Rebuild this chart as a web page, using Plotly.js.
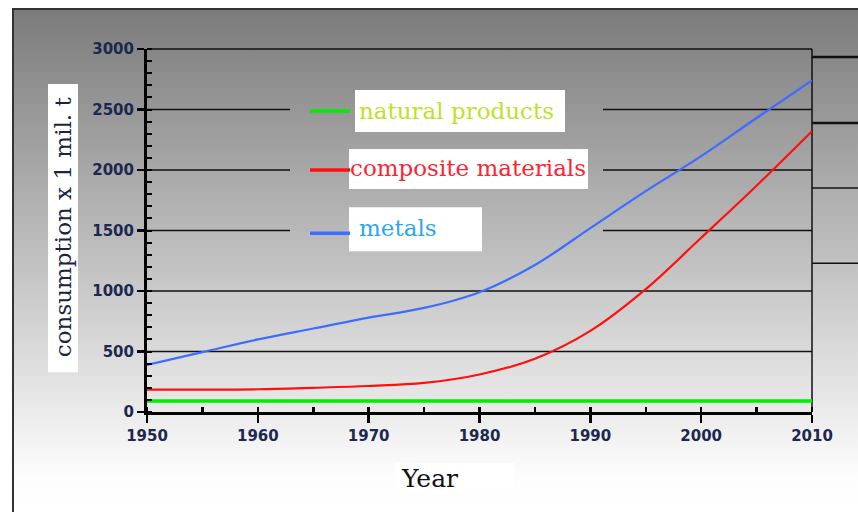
<!DOCTYPE html>
<html>
<head>
<meta charset="utf-8">
<script src="https://cdn.plot.ly/plotly-3.0.1.min.js"></script>
<style>html,body{margin:0;padding:0;background:#fff;}#chart{width:858px;height:512px;}</style>
</head>
<body>
<div id="chart"></div>
<script>
// ---- data ----
const years = [1950, 1955, 1960, 1965, 1970, 1975, 1980, 1985, 1990, 1995, 2000, 2005, 2010];
const naturalProducts = [90, 90, 90, 90, 90, 90, 90, 90, 90, 90, 90, 90, 90];
const compositeMaterials = [185, 185, 188, 200, 215, 240, 310, 440, 670, 1015, 1440, 1870, 2320];
const metals = [390, 495, 600, 690, 780, 860, 990, 1215, 1520, 1825, 2115, 2430, 2740];
const seriesNames = ["natural products", "composite materials", "metals"];
const xTicks = [1950, 1960, 1970, 1980, 1990, 2000, 2010];
const yTicks = [0, 500, 1000, 1500, 2000, 2500, 3000];
const xTitle = "Year";
const yTitle = "consumption x 1 mil. t";

// ---- layout helpers (pixel -> paper) ----
const L = 147, R = 812, T = 49, B = 411.7;
const X = px => (px - L) / (R - L);
const Y = py => (B - py) / (B - T);

const grad = "<svg xmlns='http://www.w3.org/2000/svg' width='100' height='100' viewBox='0 0 100 100' preserveAspectRatio='none'>" +
  "<defs><linearGradient id='g' x1='0' y1='0' x2='0' y2='1'>" +
  "<stop offset='0' stop-color='#7b7b7b'/><stop offset='0.93' stop-color='#fdfdfd'/><stop offset='1' stop-color='#ffffff'/>" +
  "</linearGradient></defs><rect width='100' height='100' fill='url(#g)'/></svg>";
const gradURI = "data:image/svg+xml;charset=utf-8," + encodeURIComponent(grad);

const traces = [
  {x: years, y: naturalProducts, name: seriesNames[0], mode: "lines", line: {color: "#00ee00", width: 3.5}},
  {x: years, y: compositeMaterials, name: seriesNames[1], mode: "lines", line: {color: "#ff1010", width: 2.2, shape: "spline", smoothing: 1}},
  {x: years, y: metals, name: seriesNames[2], mode: "lines", line: {color: "#3d6cff", width: 2.2, shape: "spline", smoothing: 1}}
];

const shapes = [];
// outer frame
shapes.push({type: "rect", xref: "paper", yref: "paper", x0: X(13), x1: X(900), y0: Y(9), y1: Y(560), line: {color: "#333", width: 2}, layer: "below"});
// gridlines
const gridFull = [500, 1000];
gridFull.forEach(v => shapes.push({type: "line", xref: "paper", yref: "y", x0: 0, x1: 1, y0: v, y1: v, line: {color: "#111", width: 1.5}, layer: "below"}));
[1500, 2000, 2500].forEach(v => {
  shapes.push({type: "line", xref: "paper", yref: "y", x0: 0, x1: X(290), y0: v, y1: v, line: {color: "#111", width: 1.5}, layer: "below"});
  shapes.push({type: "line", xref: "paper", yref: "y", x0: X(603), x1: 1, y0: v, y1: v, line: {color: "#111", width: 1.5}, layer: "below"});
});
// top & right border of plot
shapes.push({type: "line", xref: "paper", yref: "paper", x0: 0, x1: 1, y0: 1, y1: 1, line: {color: "#111", width: 1.5}, layer: "below"});
shapes.push({type: "line", xref: "paper", yref: "paper", x0: 1, x1: 1, y0: 0, y1: 1, line: {color: "#111", width: 1.5}, layer: "below"});
// partial box on the right
[[57, 2.5], [123, 2.5], [188, 1.5], [263, 1.5]].forEach(([py, w]) =>
  shapes.push({type: "line", xref: "paper", yref: "paper", x0: 1, x1: X(870), y0: Y(py), y1: Y(py), line: {color: "#111", width: w}, layer: "below"}));
// legend boxes and samples
const boxes = [[355, 565, 90, 132], [349, 588, 149, 189], [349, 482, 207, 251]];
boxes.forEach(b => shapes.push({type: "rect", xref: "paper", yref: "paper", x0: X(b[0]), x1: X(b[1]), y0: Y(b[3]), y1: Y(b[2]), fillcolor: "#fff", line: {width: 0}, layer: "below"}));
const samples = [[111, "#00ee00"], [170, "#ff1010"], [233, "#3d6cff"]];
samples.forEach(s => shapes.push({type: "line", xref: "paper", yref: "paper", x0: X(310), x1: X(350), y0: Y(s[0]), y1: Y(s[0]), line: {color: s[1], width: 3.5}}));
// axis title boxes
shapes.push({type: "rect", xref: "paper", yref: "paper", x0: X(48), x1: X(78), y0: Y(372), y1: Y(84), fillcolor: "#fff", line: {width: 0}, layer: "below"});
shapes.push({type: "rect", xref: "paper", yref: "paper", x0: X(395), x1: X(515), y0: Y(492), y1: Y(463), fillcolor: "#fff", line: {width: 0}, layer: "below"});

const legendFont = {family: "DejaVu Serif, serif", size: 23};
const annotations = [
  {xref: "paper", yref: "paper", x: X(357), y: Y(111), xanchor: "left", yanchor: "middle", showarrow: false, text: seriesNames[0], font: Object.assign({}, legendFont, {color: "#bde12c"})},
  {xref: "paper", yref: "paper", x: X(348), y: Y(168), xanchor: "left", yanchor: "middle", showarrow: false, text: seriesNames[1], font: Object.assign({}, legendFont, {color: "#ff2233"})},
  {xref: "paper", yref: "paper", x: X(357), y: Y(228), xanchor: "left", yanchor: "middle", showarrow: false, text: seriesNames[2], font: Object.assign({}, legendFont, {color: "#2aa6ee"})},
  {xref: "paper", yref: "paper", x: X(63), y: Y(227), xanchor: "center", yanchor: "middle", showarrow: false, textangle: -90, text: yTitle, font: {family: "DejaVu Serif, serif", size: 23, color: "#1a2340"}},
  {xref: "paper", yref: "paper", x: X(399), y: Y(478), xanchor: "left", yanchor: "middle", showarrow: false, text: xTitle, font: {family: "DejaVu Serif, serif", size: 25, color: "#111"}}
];

const tickFont = {family: "DejaVu Sans, sans-serif", size: 15, color: "#1c2850", weight: "bold"};

const layout = {
  width: 858, height: 512,
  margin: {l: L, r: 858 - R, t: T, b: 512 - B},
  paper_bgcolor: "#ffffff",
  plot_bgcolor: "rgba(0,0,0,0)",
  showlegend: false,
  images: [{source: gradURI, xref: "paper", yref: "paper", x: X(13), y: Y(9), sizex: (858 - 13) / (R - L), sizey: (512 - 9) / (B - T), xanchor: "left", yanchor: "top", sizing: "stretch", layer: "below"}],
  xaxis: {
    range: [1950, 2010], tickvals: xTicks, ticktext: xTicks.map(String),
    showgrid: false, zeroline: false, showline: true, linecolor: "#000", linewidth: 3,
    ticks: "outside", ticklen: 8, tickwidth: 2.5, tickcolor: "#000",
    minor: {ticks: "inside", ticklen: 5, tickwidth: 2.5, tickcolor: "#000", dtick: 5, showgrid: false},
    tickfont: tickFont
  },
  yaxis: {
    range: [0, 3000], tickvals: yTicks, ticktext: yTicks.map(String),
    showgrid: false, zeroline: false, showline: true, linecolor: "#000", linewidth: 3,
    ticks: "outside", ticklen: 7, tickwidth: 2.5, tickcolor: "#000",
    minor: {ticks: "inside", ticklen: 5, tickwidth: 2, tickcolor: "#000", dtick: 100, showgrid: false},
    tickfont: tickFont
  },
  shapes: shapes,
  annotations: annotations
};

Plotly.newPlot("chart", traces, layout, {displayModeBar: false, staticPlot: true});
</script>
</body>
</html>
